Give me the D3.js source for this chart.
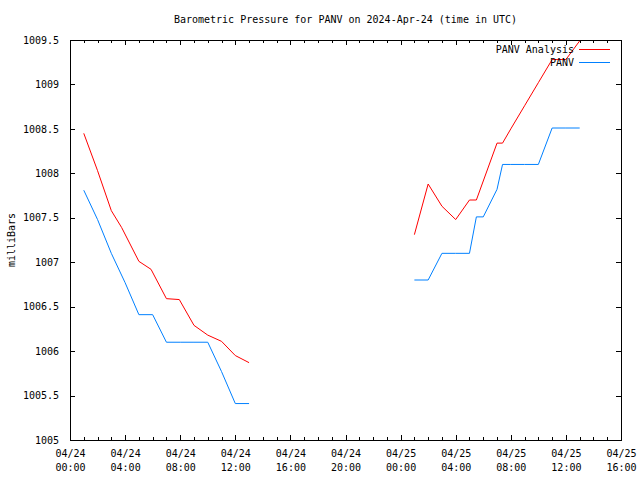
<!DOCTYPE html>
<html><head><meta charset="utf-8">
<script src="https://cdn.jsdelivr.net/npm/d3@7"></script>
<style>
body{margin:0;background:#fff}
text{font-family:"DejaVu Sans Mono","Liberation Mono",monospace;font-size:10px;fill:#000}
</style>
</head><body>
<svg id="c" width="640" height="480"></svg>
<script>
const title = "Barometric Pressure for PANV on 2024-Apr-24 (time in UTC)";
const yLabel = "milliBars";
const seriesNames = ["PANV Analysis", "PANV"];
const seriesColors = ["#ff0000", "#0080ff"];

// PANV Analysis (null = gap in data)
const analysisTimes = [
  "2024-04-24 01:00","2024-04-24 02:00","2024-04-24 03:00","2024-04-24 03:45","2024-04-24 05:00",
  "2024-04-24 05:53","2024-04-24 07:00","2024-04-24 07:56","2024-04-24 09:00","2024-04-24 10:00",
  "2024-04-24 11:00","2024-04-24 12:00","2024-04-24 13:00",
  "2024-04-24 19:00",
  "2024-04-25 01:00","2024-04-25 02:00","2024-04-25 03:00","2024-04-25 04:00","2024-04-25 05:00",
  "2024-04-25 05:30","2024-04-25 07:00","2024-04-25 07:24","2024-04-25 08:00","2024-04-25 09:00",
  "2024-04-25 10:00","2024-04-25 11:00","2024-04-25 12:00","2024-04-25 13:00"
];
const analysisValues = [
  1008.45,1008.03,1007.58,1007.39,1007.01,
  1006.92,1006.59,1006.58,1006.29,1006.18,
  1006.11,1005.95,1005.87,
  null,
  1007.31,1007.88,1007.63,1007.48,1007.70,
  1007.70,1008.34,1008.34,1008.50,1008.76,
  1009.02,1009.28,1009.28,1009.49
];

// PANV observations
const obsTimes = [
  "2024-04-24 01:00","2024-04-24 02:00","2024-04-24 03:00","2024-04-24 04:00","2024-04-24 05:00",
  "2024-04-24 06:00","2024-04-24 07:00","2024-04-24 08:00","2024-04-24 09:00","2024-04-24 10:00",
  "2024-04-24 11:00","2024-04-24 12:00","2024-04-24 13:00",
  "2024-04-24 19:00",
  "2024-04-25 01:00","2024-04-25 02:00","2024-04-25 03:00","2024-04-25 04:00","2024-04-25 05:00",
  "2024-04-25 05:30","2024-04-25 06:00","2024-04-25 07:00","2024-04-25 07:24","2024-04-25 08:00",
  "2024-04-25 09:00","2024-04-25 10:00","2024-04-25 11:00","2024-04-25 12:00","2024-04-25 13:00"
];
const obsValues = [
  1007.81,1007.48,1007.10,1006.77,1006.41,
  1006.41,1006.10,1006.10,1006.10,1006.10,
  1005.77,1005.41,1005.41,
  null,
  1006.80,1006.80,1007.10,1007.10,1007.10,
  1007.51,1007.51,1007.82,1008.10,1008.10,
  1008.10,1008.10,1008.51,1008.51,1008.51
];

const xDomain = ["2024-04-24 00:00","2024-04-25 16:00"];
const yDomain = [1005, 1009.5];
const yTicks = [1005,1005.5,1006,1006.5,1007,1007.5,1008,1008.5,1009,1009.5];

const parse = d3.utcParse("%Y-%m-%d %H:%M");
const M = {left:70, right:621, top:40, bottom:440};
const svg = d3.select("#c");

const x = d3.scaleUtc().domain(xDomain.map(parse)).range([M.left, M.right]);
const y = d3.scaleLinear().domain(yDomain).range([M.bottom, M.top]);

const majorX = x.ticks(d3.utcHour.every(4));
const minorX = x.ticks(d3.utcHour.every(1));

// frame
svg.append("rect").attr("x",M.left+0.5).attr("y",M.top+0.5)
  .attr("width",M.right-M.left).attr("height",M.bottom-M.top)
  .attr("fill","none").attr("stroke","#000").attr("shape-rendering","crispEdges");

// x axes (bottom & mirrored top), inward ticks
const fmtD = d3.utcFormat("%m/%d"), fmtT = d3.utcFormat("%H:%M");
const xb = svg.append("g").attr("transform",`translate(0,${M.bottom})`)
  .call(d3.axisBottom(x).tickValues(majorX).tickSizeInner(-5).tickSizeOuter(0).tickFormat(""));
const xbm = svg.append("g").attr("transform",`translate(0,${M.bottom})`)
  .call(d3.axisBottom(x).tickValues(minorX.filter(d=>d.getUTCHours()%4)).tickSizeInner(-3).tickSizeOuter(0).tickFormat(""));
const xt = svg.append("g").attr("transform",`translate(0,${M.top})`)
  .call(d3.axisTop(x).tickValues(majorX).tickSizeInner(-5).tickSizeOuter(0).tickFormat(""));
const xtm = svg.append("g").attr("transform",`translate(0,${M.top})`)
  .call(d3.axisTop(x).tickValues(minorX.filter(d=>d.getUTCHours()%4)).tickSizeInner(-3).tickSizeOuter(0).tickFormat(""));
[xb,xbm,xt,xtm].forEach(g=>{g.select(".domain").remove(); g.selectAll("line").attr("stroke","#000").attr("shape-rendering","crispEdges");});

xb.selectAll(".tick text").remove();
xb.selectAll(".tick").append("text").attr("text-anchor","middle").attr("y",17).text(d=>fmtD(d));
xb.selectAll(".tick").append("text").attr("text-anchor","middle").attr("y",31).text(d=>fmtT(d));

// y axes (left & mirrored right)
const fmtY = d3.format("~g");
const yl = svg.append("g").attr("transform",`translate(${M.left},0)`)
  .call(d3.axisLeft(y).tickValues(yTicks).tickSizeInner(-5).tickSizeOuter(0).tickPadding(11).tickFormat(fmtY));
const yr = svg.append("g").attr("transform",`translate(${M.right},0)`)
  .call(d3.axisRight(y).tickValues(yTicks).tickSizeInner(-5).tickSizeOuter(0).tickFormat(""));
[yl,yr].forEach(g=>{g.select(".domain").remove(); g.selectAll("line").attr("stroke","#000").attr("shape-rendering","crispEdges");});
yl.selectAll(".tick text").attr("font-family",null).attr("font-size",null).attr("fill","#000");
xb.selectAll("text").attr("fill","#000");

// labels
svg.append("text").attr("x",(M.left+M.right)/2).attr("y",23).attr("text-anchor","middle").text(title);
svg.append("text").attr("transform","translate(15,240) rotate(-90)").attr("text-anchor","middle").text(yLabel);

// series
const line = d3.line().defined(d=>d.v!=null).x(d=>x(d.t)).y(d=>y(d.v));
const series = [
  analysisTimes.map((t,i)=>({t:parse(t), v:analysisValues[i]})),
  obsTimes.map((t,i)=>({t:parse(t), v:obsValues[i]}))
];
series.forEach((s,i)=>{
  svg.append("path").datum(s).attr("d",line).attr("fill","none")
    .attr("stroke",seriesColors[i]).attr("stroke-width",1);
});

// legend
seriesNames.forEach((n,i)=>{
  const ly = 49.5 + i*13;
  svg.append("text").attr("x",574).attr("y",ly+3.5).attr("text-anchor","end").text(n);
  svg.append("line").attr("x1",579).attr("x2",610).attr("y1",ly).attr("y2",ly)
    .attr("stroke",seriesColors[i]).attr("stroke-width",1).attr("shape-rendering","crispEdges");
});
</script>
</body></html>
